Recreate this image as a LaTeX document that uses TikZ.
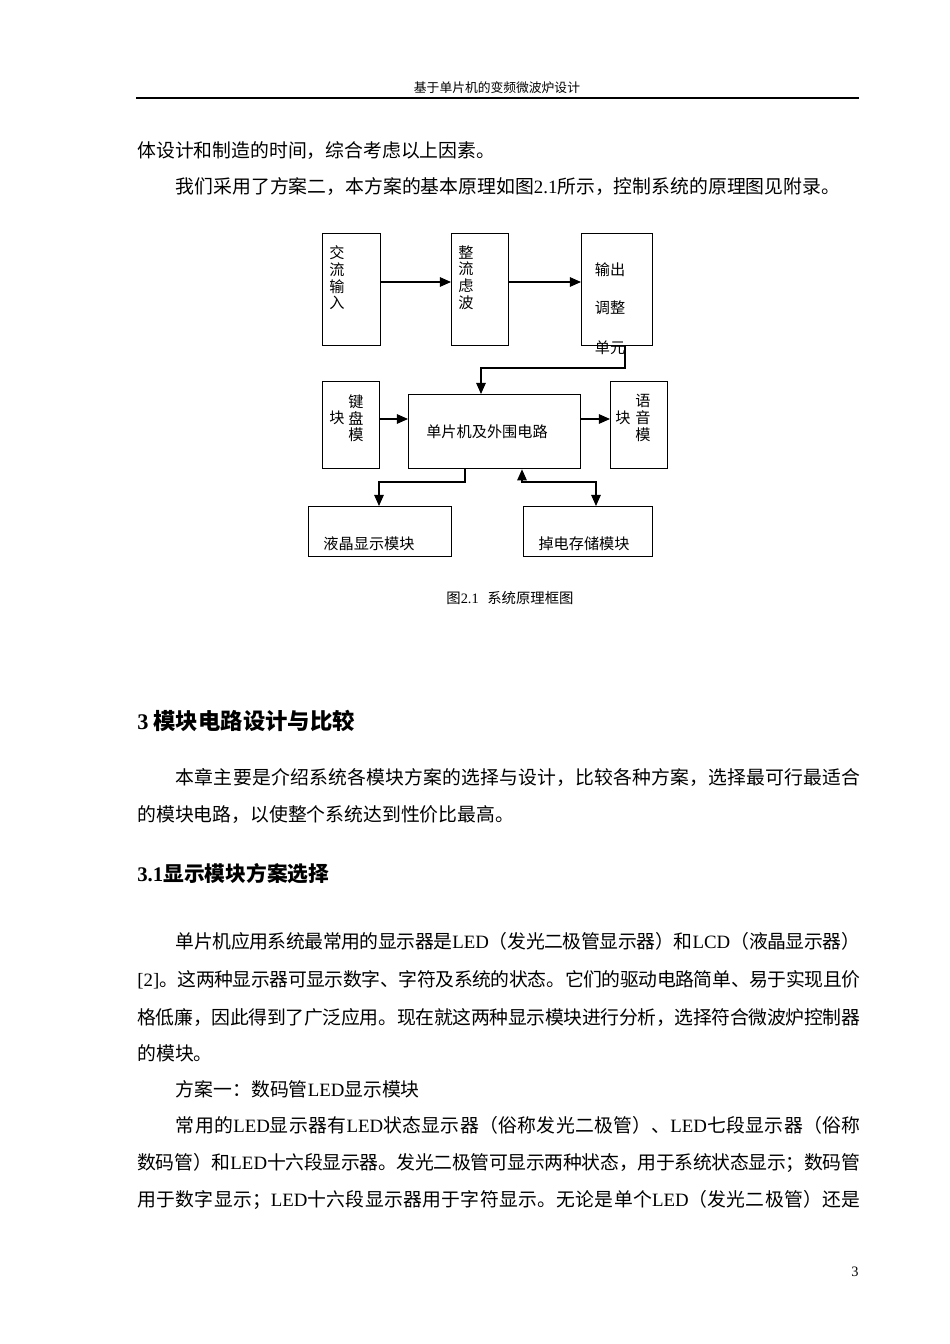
\documentclass[tikz,border=0pt]{standalone}
\usepackage{fontspec}
\setmainfont{Liberation Serif}
\newfontfamily\cjk{Noto Sans CJK SC}
\usetikzlibrary{arrows.meta}
\newcommand{\lt}[1]{{\rmfamily #1}}
\tikzset{
  box/.style={draw,line width=0.8pt},
  arr/.style={line width=0.8pt,-{Triangle[length=7pt,width=6pt]}},
  dia/.style={font=\cjk\fontsize{9.5}{10.6}\selectfont,inner sep=0pt,align=center},
  jl/.style={anchor=base west,inner sep=0pt,font=\cjk\fontsize{11.8}{14}\selectfont},
  pl/.style={anchor=base west,inner sep=0pt,font=\cjk\fontsize{11.8}{14}\selectfont},
}
\XeTeXlinebreaklocale "zh"
\XeTeXlinebreakskip=0pt plus 3pt minus 1pt
\newcommand{\J}[1]{\parbox[b]{452.8pt}{\tolerance=9999\hbadness=10000\parfillskip=0pt\parindent=0pt #1}}
\begin{document}
\begin{tikzpicture}[x=0.6263pt,y=-0.6263pt]
\useasboundingbox (0,0) rectangle (950,1344);
% header
\node[font=\cjk\fontsize{8}{10}\selectfont,inner sep=0pt] (hdr) at (497,88) {基于单片机的变频微波炉设计};
\coordinate (r1) at (136,98); \coordinate (r2) at (859,98);
\draw[line width=0.8pt] (r1) -- (r2);
% text above
\node[pl] (t1) at (137,157) {体设计和制造的时间，综合考虑以上因素。};
\node[pl] (t2) at (137,193) {\hspace*{2.05em}我们采用了方案二，本方案的基本原理如图\lt{2.1}所示，控制系统的原理图见附录。};
% diagram
\node[box,minimum width=58pt*0.6263,minimum height=112pt*0.6263,anchor=north west] (ac) at (322,233) {};
\node[dia,anchor=north] at (337,245) {交\\流\\输\\入};
\node[box,minimum width=57pt*0.6263,minimum height=112pt*0.6263,anchor=north west] (zl) at (451,233) {};
\node[dia,anchor=north] at (466,245) {整\\流\\虑\\波};
\node[box,minimum width=71pt*0.6263,minimum height=112pt*0.6263,anchor=north west] (sc) at (581,233) {};
\node[dia] at (610,270) {输出};
\node[dia] at (610,308) {调整};
\node[dia] at (610,348) {单元};
\node[box,minimum width=57pt*0.6263,minimum height=87pt*0.6263,anchor=north west] (jp) at (322,381) {};
\node[dia,anchor=north] at (356,394) {键\\盘\\模};
\node[dia] at (337,418) {块};
\node[box,minimum width=172pt*0.6263,minimum height=74pt*0.6263,anchor=north west] (mcu) at (408,394) {};
\node[dia] at (487,432) {单片机及外围电路};
\node[box,minimum width=57pt*0.6263,minimum height=87pt*0.6263,anchor=north west] (yy) at (610,381) {};
\node[dia,anchor=north] at (643,394) {语\\音\\模};
\node[dia] at (623,418) {块};
\node[box,minimum width=143pt*0.6263,minimum height=50pt*0.6263,anchor=north west] (lcd) at (308,506) {};
\node[dia] at (369,544) {液晶显示模块};
\node[box,minimum width=129pt*0.6263,minimum height=50pt*0.6263,anchor=north west] (eep) at (523,506) {};
\node[dia] at (584,544) {掉电存储模块};
\draw[arr] (ac.east|-0,282) -- (zl.west|-0,282);
\draw[arr] (zl.east|-0,282) -- (sc.west|-0,282);
\draw[arr] (sc.south-|625,0) -- (625,368) -- (481,368) -- (mcu.north-|481,0);
\draw[arr] (jp.east|-0,419) -- (mcu.west|-0,419);
\draw[arr] (mcu.east|-0,419) -- (yy.west|-0,419);
\draw[arr] (mcu.south-|465,0) -- (465,482) -- (379,482) -- (lcd.north-|379,0);
\draw[line width=0.8pt,{Triangle[length=7pt,width=6pt]}-{Triangle[length=7pt,width=6pt]}] (mcu.south-|522,0) -- (522,482) -- (596,482) -- (eep.north-|596,0);
\node[font=\cjk\fontsize{9}{11}\selectfont,inner sep=0pt] (cap) at (510,598) {图\lt{2.1}\hspace{0.6em}系统原理框图};
% heading 3
\node[anchor=base west,inner sep=0pt,font=\cjk\bfseries\fontsize{14}{16}\selectfont] (h3) at (137,729) {\lt{\bfseries 3} 模块电路设计与比较};
\node[jl] (p1) at (137,784) {\J{\hspace*{2.05em}本章主要是介绍系统各模块方案的选择与设计，比较各种方案，选择最可行最适合}};
\node[pl] (p2) at (137,821) {的模块电路，以使整个系统达到性价比最高。};
\node[anchor=base west,inner sep=0pt,font=\cjk\bfseries\fontsize{13}{16}\selectfont] (h31) at (137,881) {\lt{\bfseries 3.1}显示模块方案选择};
\node[jl] (q1) at (137,948) {\J{\hspace*{2.05em}单片机应用系统最常用的显示器是\lt{LED}（发光二极管显示器）和\lt{LCD}（液晶显示器）}};
\node[jl] (q2) at (137,986) {\J{\lt{[2]}。这两种显示器可显示数字、字符及系统的状态。它们的驱动电路简单、易于实现且价}};
\node[jl] (q3) at (137,1024) {\J{格低廉，因此得到了广泛应用。现在就这两种显示模块进行分析，选择符合微波炉控制器}};
\node[pl] (q4) at (137,1060) {的模块。};
\node[pl] (q5) at (137,1096) {\hspace*{2.05em}方案一：数码管\lt{LED}显示模块};
\node[jl] (q6) at (137,1132) {\J{\hspace*{2.05em}常用的\lt{LED}显示器有\lt{LED}状态显示器（俗称发光二极管）、\lt{LED}七段显示器（俗称}};
\node[jl] (q7) at (137,1169) {\J{数码管）和\lt{LED}十六段显示器。发光二极管可显示两种状态，用于系统状态显示；数码管}};
\node[jl] (q8) at (137,1206) {\J{用于数字显示；\lt{LED}十六段显示器用于字符显示。无论是单个\lt{LED}（发光二极管）还是}};
\node[font=\fontsize{9}{11}\selectfont,inner sep=0pt] (pg) at (855,1272) {3};
\end{tikzpicture}
\end{document}
